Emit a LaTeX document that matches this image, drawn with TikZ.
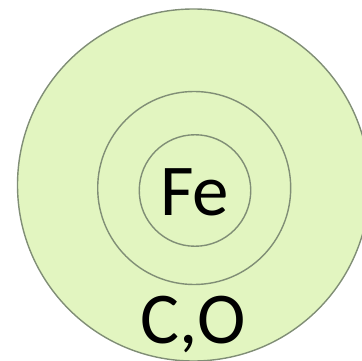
\documentclass[tikz,border=0pt]{standalone}
\usepackage{fontspec}
\setmainfont{Carlito}
\definecolor{ringfill}{RGB}{226,245,192}
\definecolor{ringline}{RGB}{128,142,118}
\tikzset{
  ring/.style={circle, draw=ringline, line width=1.4pt, inner sep=0pt},
  label/.style={font=\fontsize{73}{73}\selectfont, inner sep=0pt, text=black}
}
\begin{document}
\begin{tikzpicture}[x=1pt,y=-1pt]
\useasboundingbox (0,0) rectangle (362,361);
\clip (0,0) rectangle (362,361);
\node[ring, fill=ringfill, minimum size=352pt] (outer) at (193.5,185) {};
\node[ring, minimum size=193pt] (middle) at (194.2,188) {};
\node[ring, minimum size=111.5pt] (inner) at (195,190.5) {};
\node[label] (fe) at (194.5,192.5) {Fe};
\node[label, anchor=base] (co) at (193.5,343) {C,O};
\end{tikzpicture}
\end{document}
